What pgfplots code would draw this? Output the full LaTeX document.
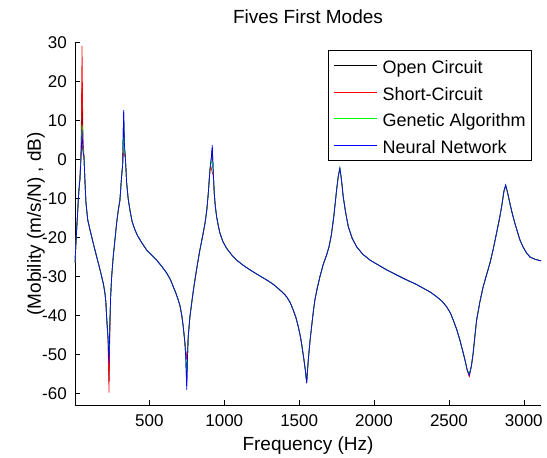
\documentclass[border=0pt]{standalone}
\usepackage{fontspec}
\setmainfont{Liberation Sans}
\usepackage{pgfplots}
\usepackage{pgfplotstable}
\pgfplotsset{compat=1.18}

% frequency (Hz), then open circuit, short circuit, GA, NN (dB)
\pgfplotstableread{
f oc sc ga nn
3 -26.5 -26.5 -26.5 -26.5
8 -22.5 -22.5 -22.5 -22.5
14 -18 -18 -18 -18
20 -14 -14 -14 -14
25 -10.4 -10.4 -10.4 -10.4
30 -7.5 -7.5 -7.5 -7.5
36 -5 -5 -5 -5
44 2 4 1 1
50 18.5 29.2 9 7.6
56 3 6 2.5 2
63 0.7 0.7 0.7 0.7
70 -6 -6 -6 -6
76 -11 -11 -11 -11
88 -15.5 -15.5 -15.5 -15.5
103 -18 -18 -18 -18
125 -21.5 -21.5 -21.5 -21.5
148 -25 -25 -25 -25
165 -27.5 -27.5 -27.5 -27.5
181 -30 -30 -30 -30
193 -32 -32 -32 -32
203 -34.3 -34.3 -34.3 -34.3
209 -36.5 -36.5 -36.5 -36.5
214 -40.3 -40.3 -40.3 -40.3
224 -46 -47 -46 -46
230 -57 -59.8 -50 -52.3
235 -44 -46 -43 -43
241 -35.2 -35.2 -35.2 -35.2
248 -30 -30 -30 -30
258 -25 -25 -25 -25
270 -20.5 -20.5 -20.5 -20.5
281 -16.3 -16.3 -16.3 -16.3
292 -13 -13 -13 -13
303 -10.4 -10.4 -10.4 -10.4
314 -4.4 -4.4 -4.4 -4.4
321 -1.5 -1 -1.5 -1.5
328 12.3 2 10 12.7
333 3 1 3 4
339 0.7 0.7 0.7 0.7
348 -6 -6 -6 -6
358 -10 -10 -10 -10
370 -13 -13 -13 -13
385 -16 -16 -16 -16
403 -18 -18 -18 -18
420 -19.5 -19.5 -19.5 -19.5
437 -20.6 -20.6 -20.6 -20.6
460 -22 -22 -22 -22
481 -23.2 -23.2 -23.2 -23.2
515 -24.5 -24.5 -24.5 -24.5
548 -25.8 -25.8 -25.8 -25.8
580 -27.3 -27.3 -27.3 -27.3
615 -29.1 -29.1 -29.1 -29.1
640 -30.8 -30.8 -30.8 -30.8
659 -32.6 -32.6 -32.6 -32.6
676 -34.2 -34.2 -34.2 -34.2
692 -36 -36 -36 -36
704 -37.5 -37.5 -37.5 -37.5
716 -40 -40 -40 -40
726 -42.9 -42.9 -42.9 -42.9
737 -47.1 -47.1 -47.1 -47.1
743 -51 -49 -51 -51
749 -58 -51.4 -55 -59.1
754 -51 -49 -51 -51
759 -45.5 -45.5 -45.5 -45.5
770 -40.5 -40.5 -40.5 -40.5
782 -36.9 -36.9 -36.9 -36.9
793 -33.7 -33.7 -33.7 -33.7
804 -30.9 -30.9 -30.9 -30.9
820 -27 -27 -27 -27
837 -23.2 -23.2 -23.2 -23.2
855 -19.7 -19.7 -19.7 -19.7
871 -16.4 -16.4 -16.4 -16.4
883 -13 -13 -13 -13
893 -8.7 -8.7 -8.7 -8.7
904 -2.7 -2.7 -2.7 -2.7
912 0 -2 -0.5 0
920 3 -3.4 -1 3.7
926 -3 -4 -3 -3
933 -8.7 -8.7 -8.7 -8.7
940 -12 -12 -12 -12
949 -14.7 -14.7 -14.7 -14.7
960 -17 -17 -17 -17
971 -18.9 -18.9 -18.9 -18.9
990 -21 -21 -21 -21
1016 -22.8 -22.8 -22.8 -22.8
1050 -24.5 -24.5 -24.5 -24.5
1082 -25.8 -25.8 -25.8 -25.8
1125 -27.1 -27.1 -27.1 -27.1
1171 -28.3 -28.3 -28.3 -28.3
1230 -29.7 -29.7 -29.7 -29.7
1283 -30.9 -30.9 -30.9 -30.9
1330 -32.1 -32.1 -32.1 -32.1
1372 -33.5 -33.5 -33.5 -33.5
1395 -34.3 -34.3 -34.3 -34.3
1416 -35.2 -35.2 -35.2 -35.2
1440 -36.7 -36.7 -36.7 -36.7
1460 -38.6 -38.6 -38.6 -38.6
1478 -40.5 -40.5 -40.5 -40.5
1494 -42.9 -42.9 -42.9 -42.9
1506 -45 -45 -45 -45
1516 -47.2 -47.2 -47.2 -47.2
1532 -51.4 -51.4 -51.4 -51.4
1541 -54 -54 -54 -54
1550 -57.2 -56.8 -57 -57.4
1556 -54 -54 -54 -54
1561 -51.4 -51.4 -51.4 -51.4
1572 -46.7 -46.7 -46.7 -46.7
1583 -42.9 -42.9 -42.9 -42.9
1594 -39.2 -39.2 -39.2 -39.2
1605 -36 -36 -36 -36
1622 -32.8 -32.8 -32.8 -32.8
1639 -30 -30 -30 -30
1660 -27 -27 -27 -27
1683 -24.5 -24.5 -24.5 -24.5
1700 -22.3 -22.3 -22.3 -22.3
1715 -19.3 -19.3 -19.3 -19.3
1731 -14.7 -14.7 -14.7 -14.7
1750 -7.8 -7.8 -7.8 -7.8
1762 -4 -4 -4 -4
1772 -2.2 -2.8 -2.4 -2.2
1782 -5 -5 -5 -5
1794 -9.5 -9.5 -9.5 -9.5
1810 -13.5 -13.5 -13.5 -13.5
1828 -17.2 -17.2 -17.2 -17.2
1855 -20.3 -20.3 -20.3 -20.3
1884 -22.4 -22.4 -22.4 -22.4
1925 -24.3 -24.3 -24.3 -24.3
1973 -25.8 -25.8 -25.8 -25.8
2030 -27.1 -27.1 -27.1 -27.1
2084 -28.3 -28.3 -28.3 -28.3
2150 -29.6 -29.6 -29.6 -29.6
2218 -30.9 -30.9 -30.9 -30.9
2275 -31.9 -31.9 -31.9 -31.9
2328 -33 -33 -33 -33
2375 -34 -34 -34 -34
2418 -35.2 -35.2 -35.2 -35.2
2455 -36.4 -36.4 -36.4 -36.4
2485 -37.8 -37.8 -37.8 -37.8
2510 -39.4 -39.4 -39.4 -39.4
2529 -41.2 -41.2 -41.2 -41.2
2552 -43.6 -43.6 -43.6 -43.6
2573 -46.3 -46.3 -46.3 -46.3
2590 -48.8 -48.8 -48.8 -48.8
2607 -51.4 -51.4 -51.4 -51.4
2622 -54 -54 -54 -54
2636 -55.5 -55.7 -55 -55.3
2650 -53 -53 -53 -53
2662 -49.7 -49.7 -49.7 -49.7
2673 -45.5 -45.5 -45.5 -45.5
2685 -41.2 -41.2 -41.2 -41.2
2707 -36.5 -36.5 -36.5 -36.5
2729 -32.6 -32.6 -32.6 -32.6
2752 -29.5 -29.5 -29.5 -29.5
2774 -26.6 -26.6 -26.6 -26.6
2797 -22.8 -22.8 -22.8 -22.8
2818 -18.9 -18.9 -18.9 -18.9
2836 -15.5 -15.5 -15.5 -15.5
2852 -12.1 -12.1 -12.1 -12.1
2868 -8 -8 -8 -8
2879 -6.6 -7 -6.7 -6.5
2892 -8.5 -8.5 -8.5 -8.5
2907 -11.2 -11.2 -11.2 -11.2
2924 -14 -14 -14 -14
2941 -16.4 -16.4 -16.4 -16.4
2958 -18.6 -18.6 -18.6 -18.6
2974 -20.6 -20.6 -20.6 -20.6
2996 -22.5 -22.5 -22.5 -22.5
3019 -24 -24 -24 -24
3041 -25 -25 -25 -25
3075 -25.6 -25.6 -25.6 -25.6
3115 -26 -26 -26 -26
}\modes

\begin{document}
\begin{tikzpicture}
\useasboundingbox (0,0) rectangle (547pt,458pt);
\begin{axis}[
  at={(75pt,53pt)}, anchor=south west,
  scale only axis, width=466pt, height=362.3pt,
  xmin=3, xmax=3115, ymin=-63, ymax=30,
  xtick={500,1000,...,3000}, ytick={-60,-50,...,30},
  axis x line*=bottom, axis y line*=left,
  tick align=inside, major tick length=4.5pt,
  tick style={black, line width=0.5pt},
  axis line style={black, line width=0.6pt},
  /pgf/number format/assume math mode=true,
  /pgf/number format/1000 sep={},
  ticklabel style={font=\fontsize{17}{20}\selectfont},
  xticklabel style={anchor=base, inner sep=0pt, yshift=-22pt},
  yticklabel style={anchor=east, inner sep=0pt, xshift=-8pt},
  title={Fives First Modes},
  title style={at={([yshift=13.5pt]axis description cs:0.5,1)}, anchor=base,
    font=\fontsize{19}{22}\selectfont},
  xlabel={Frequency (Hz)},
  xlabel style={at={([yshift=-46pt]axis description cs:0.5,0)}, anchor=base,
    font=\fontsize{19}{22}\selectfont},
  ylabel={(Mobility (m/s/N) , dB)},
  ylabel style={at={([xshift=-34pt]axis description cs:0,0.5)}, anchor=base,
    font=\fontsize{19}{22}\selectfont},
  legend style={at={([xshift=-9pt,yshift=-7.3pt]axis description cs:1,1)},
    anchor=north east, draw=black, line width=0.6pt,
    font=\fontsize{18}{21}\selectfont,
    inner xsep=6pt, inner ysep=2pt, column sep=5pt, row sep=0pt,
    nodes={inner sep=0pt, text height=21.25pt, text depth=5.25pt}},
  legend cell align=left,
  legend image code/.code={\draw[#1] (0pt,0pt) -- (43pt,0pt);},
  every axis plot/.append style={line width=0.7pt, mark=none},
]
\addplot[black] table[x=f, y=oc] {\modes};
\addplot[red] table[x=f, y=sc] {\modes};
\addplot[green] table[x=f, y=ga] {\modes};
\addplot[blue] table[x=f, y=nn] {\modes};
\legend{Open Circuit, Short-Circuit, Genetic Algorithm, Neural Network}
\end{axis}
\end{tikzpicture}
\end{document}
